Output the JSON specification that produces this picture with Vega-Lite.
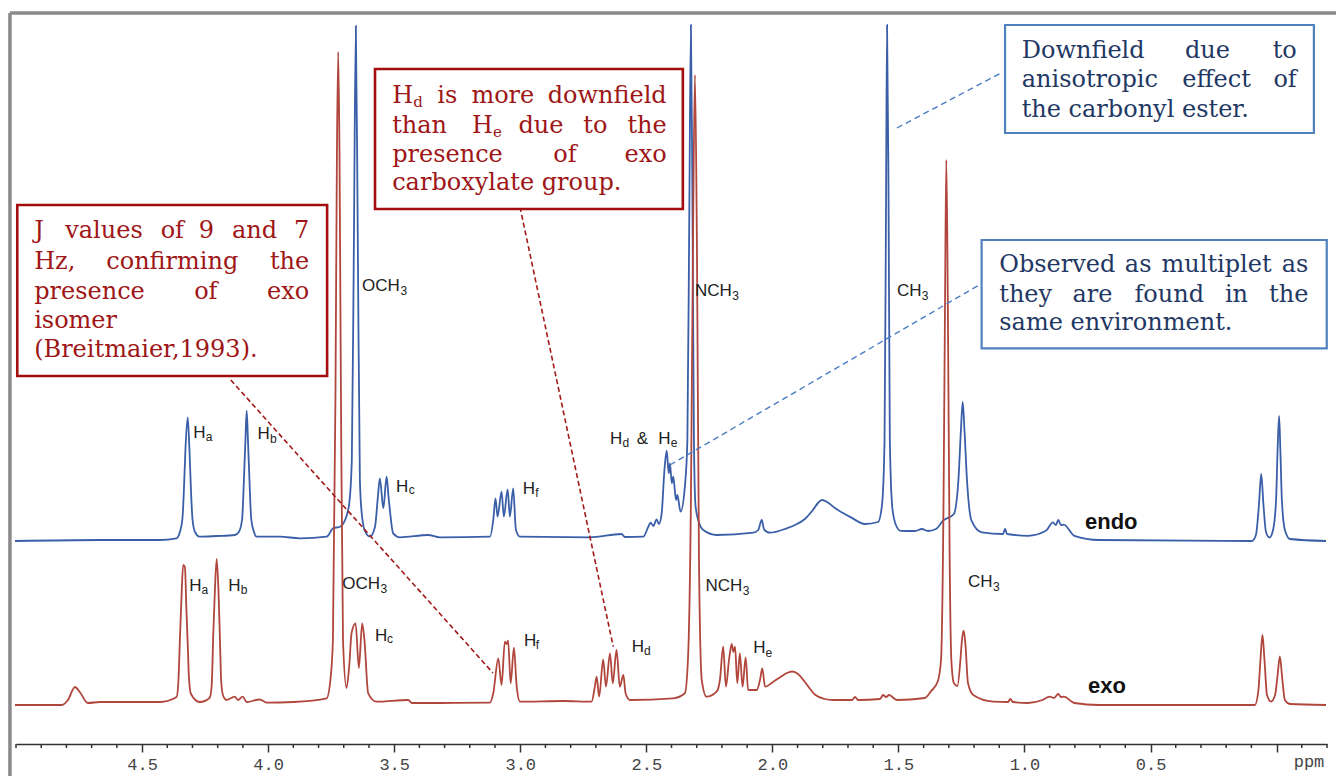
{
  "$schema": "https://vega.github.io/schema/vega-lite/v6.json",
  "width": 1311,
  "height": 744,
  "autosize": "none",
  "padding": {"left": 16, "top": 0, "right": 9, "bottom": 32},
  "background": "white",
  "config": {"view": {"stroke": null}, "font": "Liberation Sans"},
  "datasets": {
    "spectra": [
      {"s":"endo","ppm":5.004,"int":203},{"s":"endo","ppm":4.667,"int":204},{"s":"endo","ppm":4.429,"int":204},{"s":"endo","ppm":4.363,"int":205.7},{"s":"endo","ppm":4.35,"int":212},{"s":"endo","ppm":4.34,"int":225},{"s":"endo","ppm":4.334,"int":254},{"s":"endo","ppm":4.328,"int":294},{"s":"endo","ppm":4.319,"int":326.7},{"s":"endo","ppm":4.312,"int":294},{"s":"endo","ppm":4.306,"int":254},{"s":"endo","ppm":4.3,"int":225},{"s":"endo","ppm":4.29,"int":212},{"s":"endo","ppm":4.271,"int":207.3},{"s":"endo","ppm":4.204,"int":208},{"s":"endo","ppm":4.132,"int":209},{"s":"endo","ppm":4.116,"int":212},{"s":"endo","ppm":4.103,"int":225},{"s":"endo","ppm":4.096,"int":264},{"s":"endo","ppm":4.09,"int":304},{"s":"endo","ppm":4.085,"int":333.3},{"s":"endo","ppm":4.08,"int":304},{"s":"endo","ppm":4.074,"int":264},{"s":"endo","ppm":4.067,"int":225},{"s":"endo","ppm":4.056,"int":212},{"s":"endo","ppm":4.046,"int":207.3},{"s":"endo","ppm":3.953,"int":207.3},{"s":"endo","ppm":3.874,"int":205.7},{"s":"endo","ppm":3.768,"int":207.3},{"s":"endo","ppm":3.742,"int":215.7},{"s":"endo","ppm":3.715,"int":217.3},{"s":"endo","ppm":3.695,"int":224},{"s":"endo","ppm":3.679,"int":239},{"s":"endo","ppm":3.668,"int":284},{"s":"endo","ppm":3.66,"int":494},{"s":"endo","ppm":3.652,"int":718},{"s":"endo","ppm":3.644,"int":494},{"s":"endo","ppm":3.636,"int":264},{"s":"endo","ppm":3.628,"int":229},{"s":"endo","ppm":3.616,"int":213},{"s":"endo","ppm":3.596,"int":207.3},{"s":"endo","ppm":3.576,"int":217.3},{"s":"endo","ppm":3.564,"int":249},{"s":"endo","ppm":3.557,"int":265.7},{"s":"endo","ppm":3.543,"int":236},{"s":"endo","ppm":3.53,"int":267.3},{"s":"endo","ppm":3.523,"int":249},{"s":"endo","ppm":3.517,"int":234},{"s":"endo","ppm":3.504,"int":210.7},{"s":"endo","ppm":3.477,"int":206.7},{"s":"endo","ppm":3.365,"int":209},{"s":"endo","ppm":3.319,"int":206.7},{"s":"endo","ppm":3.12,"int":207.3},{"s":"endo","ppm":3.107,"int":224},{"s":"endo","ppm":3.098,"int":245.7},{"s":"endo","ppm":3.09,"int":227.3},{"s":"endo","ppm":3.074,"int":252.3},{"s":"endo","ppm":3.065,"int":227.3},{"s":"endo","ppm":3.05,"int":254.7},{"s":"endo","ppm":3.041,"int":227.3},{"s":"endo","ppm":3.028,"int":255.7},{"s":"endo","ppm":3.017,"int":214},{"s":"endo","ppm":3.001,"int":207.3},{"s":"endo","ppm":2.724,"int":206.7},{"s":"endo","ppm":2.598,"int":210},{"s":"endo","ppm":2.585,"int":207},{"s":"endo","ppm":2.512,"int":207.3},{"s":"endo","ppm":2.492,"int":217.3},{"s":"endo","ppm":2.483,"int":221.3},{"s":"endo","ppm":2.472,"int":218},{"s":"endo","ppm":2.459,"int":224.7},{"s":"endo","ppm":2.45,"int":220},{"s":"endo","ppm":2.439,"int":230.7},{"s":"endo","ppm":2.428,"int":274},{"s":"endo","ppm":2.419,"int":293.3},{"s":"endo","ppm":2.411,"int":270.7},{"s":"endo","ppm":2.406,"int":280.7},{"s":"endo","ppm":2.399,"int":260.7},{"s":"endo","ppm":2.393,"int":267.3},{"s":"endo","ppm":2.382,"int":244},{"s":"endo","ppm":2.377,"int":249},{"s":"endo","ppm":2.364,"int":232.3},{"s":"endo","ppm":2.347,"int":257.3},{"s":"endo","ppm":2.337,"int":304},{"s":"endo","ppm":2.329,"int":544},{"s":"endo","ppm":2.323,"int":719},{"s":"endo","ppm":2.317,"int":544},{"s":"endo","ppm":2.311,"int":304},{"s":"endo","ppm":2.305,"int":239},{"s":"endo","ppm":2.294,"int":224},{"s":"endo","ppm":2.274,"int":214},{"s":"endo","ppm":2.221,"int":209},{"s":"endo","ppm":2.076,"int":211.3},{"s":"endo","ppm":2.056,"int":214},{"s":"endo","ppm":2.042,"int":224},{"s":"endo","ppm":2.033,"int":214.7},{"s":"endo","ppm":2.01,"int":211.3},{"s":"endo","ppm":1.943,"int":215.7},{"s":"endo","ppm":1.91,"int":219},{"s":"endo","ppm":1.871,"int":225},{"s":"endo","ppm":1.839,"int":234},{"s":"endo","ppm":1.819,"int":241},{"s":"endo","ppm":1.803,"int":244},{"s":"endo","ppm":1.783,"int":242},{"s":"endo","ppm":1.752,"int":236},{"s":"endo","ppm":1.72,"int":231},{"s":"endo","ppm":1.688,"int":226.6},{"s":"endo","ppm":1.633,"int":220},{"s":"endo","ppm":1.581,"int":222},{"s":"endo","ppm":1.565,"int":239},{"s":"endo","ppm":1.555,"int":304},{"s":"endo","ppm":1.549,"int":544},{"s":"endo","ppm":1.545,"int":719},{"s":"endo","ppm":1.539,"int":544},{"s":"endo","ppm":1.534,"int":304},{"s":"endo","ppm":1.524,"int":236},{"s":"endo","ppm":1.51,"int":219},{"s":"endo","ppm":1.491,"int":213.2},{"s":"endo","ppm":1.434,"int":213},{"s":"endo","ppm":1.407,"int":215},{"s":"endo","ppm":1.383,"int":213},{"s":"endo","ppm":1.351,"int":215},{"s":"endo","ppm":1.323,"int":223.3},{"s":"endo","ppm":1.28,"int":230},{"s":"endo","ppm":1.262,"int":264},{"s":"endo","ppm":1.252,"int":314},{"s":"endo","ppm":1.245,"int":342.2},{"s":"endo","ppm":1.238,"int":314},{"s":"endo","ppm":1.228,"int":264},{"s":"endo","ppm":1.21,"int":223.3},{"s":"endo","ppm":1.169,"int":211.6},{"s":"endo","ppm":1.085,"int":210},{"s":"endo","ppm":1.077,"int":215},{"s":"endo","ppm":1.069,"int":210},{"s":"endo","ppm":0.986,"int":208.2},{"s":"endo","ppm":0.915,"int":213.2},{"s":"endo","ppm":0.887,"int":221.6},{"s":"endo","ppm":0.875,"int":219},{"s":"endo","ppm":0.866,"int":224},{"s":"endo","ppm":0.855,"int":219},{"s":"endo","ppm":0.844,"int":219.3},{"s":"endo","ppm":0.802,"int":208.2},{"s":"endo","ppm":0.704,"int":204},{"s":"endo","ppm":0.098,"int":203},{"s":"endo","ppm":0.082,"int":209},{"s":"endo","ppm":0.07,"int":239},{"s":"endo","ppm":0.061,"int":270.2},{"s":"endo","ppm":0.052,"int":239},{"s":"endo","ppm":0.042,"int":212},{"s":"endo","ppm":0.028,"int":206.5},{"s":"endo","ppm":0.014,"int":214},{"s":"endo","ppm":0.002,"int":244},{"s":"endo","ppm":-0.004,"int":294},{"s":"endo","ppm":-0.01,"int":328},{"s":"endo","ppm":-0.015,"int":294},{"s":"endo","ppm":-0.021,"int":244},{"s":"endo","ppm":-0.033,"int":214},{"s":"endo","ppm":-0.053,"int":205},{"s":"endo","ppm":-0.196,"int":203},
      {"s":"exo","ppm":5.004,"int":39},{"s":"exo","ppm":4.818,"int":39},{"s":"exo","ppm":4.794,"int":44},{"s":"exo","ppm":4.766,"int":57},{"s":"exo","ppm":4.747,"int":52},{"s":"exo","ppm":4.715,"int":41},{"s":"exo","ppm":4.667,"int":42},{"s":"exo","ppm":4.429,"int":42},{"s":"exo","ppm":4.363,"int":47},{"s":"exo","ppm":4.356,"int":62},{"s":"exo","ppm":4.35,"int":104},{"s":"exo","ppm":4.344,"int":144},{"s":"exo","ppm":4.337,"int":179},{"s":"exo","ppm":4.33,"int":177},{"s":"exo","ppm":4.324,"int":134},{"s":"exo","ppm":4.318,"int":94},{"s":"exo","ppm":4.314,"int":66},{"s":"exo","ppm":4.306,"int":50},{"s":"exo","ppm":4.271,"int":42},{"s":"exo","ppm":4.232,"int":46},{"s":"exo","ppm":4.224,"int":58},{"s":"exo","ppm":4.217,"int":114},{"s":"exo","ppm":4.211,"int":154},{"s":"exo","ppm":4.204,"int":185},{"s":"exo","ppm":4.197,"int":154},{"s":"exo","ppm":4.191,"int":104},{"s":"exo","ppm":4.186,"int":62},{"s":"exo","ppm":4.178,"int":48},{"s":"exo","ppm":4.165,"int":44},{"s":"exo","ppm":4.132,"int":47.3},{"s":"exo","ppm":4.12,"int":44},{"s":"exo","ppm":4.101,"int":47.3},{"s":"exo","ppm":4.085,"int":42},{"s":"exo","ppm":4.033,"int":44.5},{"s":"exo","ppm":4.006,"int":41.3},{"s":"exo","ppm":3.9,"int":42},{"s":"exo","ppm":3.768,"int":45.7},{"s":"exo","ppm":3.753,"int":64},{"s":"exo","ppm":3.743,"int":104},{"s":"exo","ppm":3.733,"int":344},{"s":"exo","ppm":3.727,"int":594},{"s":"exo","ppm":3.722,"int":692},{"s":"exo","ppm":3.717,"int":594},{"s":"exo","ppm":3.711,"int":344},{"s":"exo","ppm":3.703,"int":104},{"s":"exo","ppm":3.689,"int":56},{"s":"exo","ppm":3.678,"int":79},{"s":"exo","ppm":3.669,"int":111},{"s":"exo","ppm":3.653,"int":120.7},{"s":"exo","ppm":3.64,"int":76},{"s":"exo","ppm":3.627,"int":120.7},{"s":"exo","ppm":3.618,"int":104},{"s":"exo","ppm":3.603,"int":50.7},{"s":"exo","ppm":3.57,"int":42.3},{"s":"exo","ppm":3.444,"int":44},{"s":"exo","ppm":3.43,"int":41},{"s":"exo","ppm":3.319,"int":41},{"s":"exo","ppm":3.12,"int":41.3},{"s":"exo","ppm":3.107,"int":50.7},{"s":"exo","ppm":3.087,"int":85.7},{"s":"exo","ppm":3.074,"int":59},{"s":"exo","ppm":3.061,"int":102.3},{"s":"exo","ppm":3.054,"int":100},{"s":"exo","ppm":3.048,"int":103.3},{"s":"exo","ppm":3.038,"int":60.7},{"s":"exo","ppm":3.025,"int":96.3},{"s":"exo","ppm":3.014,"int":57.3},{"s":"exo","ppm":3.001,"int":42.3},{"s":"exo","ppm":2.829,"int":43},{"s":"exo","ppm":2.717,"int":42.3},{"s":"exo","ppm":2.704,"int":57.3},{"s":"exo","ppm":2.697,"int":67.3},{"s":"exo","ppm":2.687,"int":47.3},{"s":"exo","ppm":2.671,"int":84.7},{"s":"exo","ppm":2.66,"int":57.3},{"s":"exo","ppm":2.644,"int":90.7},{"s":"exo","ppm":2.633,"int":60.7},{"s":"exo","ppm":2.618,"int":94},{"s":"exo","ppm":2.605,"int":57.3},{"s":"exo","ppm":2.591,"int":69},{"s":"exo","ppm":2.582,"int":50.7},{"s":"exo","ppm":2.565,"int":44},{"s":"exo","ppm":2.393,"int":45.7},{"s":"exo","ppm":2.347,"int":50.7},{"s":"exo","ppm":2.334,"int":89},{"s":"exo","ppm":2.323,"int":244},{"s":"exo","ppm":2.315,"int":494},{"s":"exo","ppm":2.307,"int":669},{"s":"exo","ppm":2.299,"int":494},{"s":"exo","ppm":2.291,"int":184},{"s":"exo","ppm":2.28,"int":64},{"s":"exo","ppm":2.261,"int":47.3},{"s":"exo","ppm":2.221,"int":52.3},{"s":"exo","ppm":2.208,"int":64},{"s":"exo","ppm":2.195,"int":97.3},{"s":"exo","ppm":2.184,"int":57.3},{"s":"exo","ppm":2.172,"int":84},{"s":"exo","ppm":2.161,"int":100},{"s":"exo","ppm":2.155,"int":92},{"s":"exo","ppm":2.148,"int":97.3},{"s":"exo","ppm":2.139,"int":60.7},{"s":"exo","ppm":2.129,"int":90.7},{"s":"exo","ppm":2.118,"int":57.3},{"s":"exo","ppm":2.106,"int":86.7},{"s":"exo","ppm":2.096,"int":54},{"s":"exo","ppm":2.062,"int":54},{"s":"exo","ppm":2.049,"int":64},{"s":"exo","ppm":2.04,"int":75.7},{"s":"exo","ppm":2.029,"int":57.3},{"s":"exo","ppm":1.996,"int":62.3},{"s":"exo","ppm":1.962,"int":68},{"s":"exo","ppm":1.942,"int":71},{"s":"exo","ppm":1.921,"int":72.5},{"s":"exo","ppm":1.898,"int":70},{"s":"exo","ppm":1.871,"int":62},{"s":"exo","ppm":1.829,"int":49},{"s":"exo","ppm":1.791,"int":45},{"s":"exo","ppm":1.76,"int":44},{"s":"exo","ppm":1.684,"int":44},{"s":"exo","ppm":1.672,"int":47},{"s":"exo","ppm":1.66,"int":44},{"s":"exo","ppm":1.573,"int":45},{"s":"exo","ppm":1.561,"int":49},{"s":"exo","ppm":1.549,"int":47},{"s":"exo","ppm":1.537,"int":49},{"s":"exo","ppm":1.506,"int":44},{"s":"exo","ppm":1.395,"int":46},{"s":"exo","ppm":1.372,"int":52.4},{"s":"exo","ppm":1.344,"int":62.5},{"s":"exo","ppm":1.331,"int":84},{"s":"exo","ppm":1.321,"int":244},{"s":"exo","ppm":1.315,"int":444},{"s":"exo","ppm":1.31,"int":584},{"s":"exo","ppm":1.304,"int":444},{"s":"exo","ppm":1.297,"int":194},{"s":"exo","ppm":1.29,"int":84},{"s":"exo","ppm":1.28,"int":61},{"s":"exo","ppm":1.266,"int":58},{"s":"exo","ppm":1.254,"int":84},{"s":"exo","ppm":1.248,"int":104},{"s":"exo","ppm":1.241,"int":113.4},{"s":"exo","ppm":1.234,"int":99},{"s":"exo","ppm":1.224,"int":61},{"s":"exo","ppm":1.203,"int":49},{"s":"exo","ppm":1.125,"int":42.4},{"s":"exo","ppm":1.065,"int":42},{"s":"exo","ppm":1.056,"int":45},{"s":"exo","ppm":1.046,"int":42},{"s":"exo","ppm":0.986,"int":41},{"s":"exo","ppm":0.929,"int":44},{"s":"exo","ppm":0.9,"int":47.4},{"s":"exo","ppm":0.883,"int":46},{"s":"exo","ppm":0.866,"int":50},{"s":"exo","ppm":0.855,"int":47},{"s":"exo","ppm":0.844,"int":47.4},{"s":"exo","ppm":0.802,"int":41},{"s":"exo","ppm":0.704,"int":39},{"s":"exo","ppm":0.086,"int":39},{"s":"exo","ppm":0.072,"int":54},{"s":"exo","ppm":0.064,"int":84},{"s":"exo","ppm":0.056,"int":109},{"s":"exo","ppm":0.048,"int":84},{"s":"exo","ppm":0.038,"int":49},{"s":"exo","ppm":0.022,"int":42.4},{"s":"exo","ppm":0.006,"int":49},{"s":"exo","ppm":-0.004,"int":69},{"s":"exo","ppm":-0.013,"int":87.6},{"s":"exo","ppm":-0.023,"int":64},{"s":"exo","ppm":-0.033,"int":44},{"s":"exo","ppm":-0.053,"int":40},{"s":"exo","ppm":-0.196,"int":39}
    ],
    "labels": [
      {"t":"H","ppm":4.297,"int":306.5},{"t":"H","ppm":4.042,"int":305},{"t":"H","ppm":3.493,"int":252},{"t":"OCH","ppm":3.628,"int":453},{"t":"H","ppm":2.99,"int":250},{"t":"H","ppm":2.644,"int":300},{"t":"&","ppm":2.538,"int":300},{"t":"H","ppm":2.453,"int":300},{"t":"NCH","ppm":2.307,"int":448},{"t":"CH","ppm":1.506,"int":448},
      {"t":"H","ppm":4.313,"int":153.3},{"t":"H","ppm":4.158,"int":153.3},{"t":"OCH","ppm":3.706,"int":154.7},{"t":"H","ppm":3.576,"int":103.3},{"t":"H","ppm":2.985,"int":98},{"t":"H","ppm":2.558,"int":92.3},{"t":"NCH","ppm":2.265,"int":153.3},{"t":"H","ppm":2.076,"int":90.7},{"t":"CH","ppm":1.224,"int":157}
    ],
    "subs": [
      {"t":"a","ppm":4.247,"int":303},{"t":"b","ppm":3.993,"int":301.3},{"t":"c","ppm":3.442,"int":250},{"t":"3","ppm":3.475,"int":449},{"t":"f","ppm":2.94,"int":247},{"t":"d","ppm":2.594,"int":297},{"t":"e","ppm":2.403,"int":297},{"t":"3","ppm":2.159,"int":444.5},{"t":"3","ppm":1.407,"int":444.5},
      {"t":"a","ppm":4.264,"int":150},{"t":"b","ppm":4.109,"int":150},{"t":"3","ppm":3.554,"int":151},{"t":"c","ppm":3.528,"int":101},{"t":"f","ppm":2.938,"int":95},{"t":"d","ppm":2.509,"int":89},{"t":"3","ppm":2.117,"int":149.5},{"t":"e","ppm":2.027,"int":87.5},{"t":"3","ppm":1.125,"int":153.5}
    ],
    "tags": [
      {"t":"endo","ppm":0.76,"int":215},{"t":"exo","ppm":0.748,"int":51}
    ],
    "notesRedL": [
      {"t":"J","ppm":4.928,"int":505.7},{"t":"Hz,","ppm":4.928,"int":475},{"t":"presence","ppm":4.928,"int":444.7},{"t":"isomer","ppm":4.928,"int":415.7},{"t":"(Breitmaier,1993).","ppm":4.928,"int":386.7},
      {"t":"H","ppm":3.508,"int":640.7},{"t":"than","ppm":3.508,"int":610.7},{"t":"presence","ppm":3.508,"int":582.3},{"t":"carboxylate group.","ppm":3.508,"int":554}
    ],
    "notesRedC": [
      {"t":"values","ppm":4.651,"int":505.7},{"t":"of","ppm":4.38,"int":505.7},{"t":"9","ppm":4.245,"int":505.7},{"t":"and","ppm":4.054,"int":505.7},
      {"t":"confirming","ppm":4.38,"int":475},
      {"t":"of","ppm":4.247,"int":444.7},
      {"t":"is","ppm":3.289,"int":640.7},{"t":"more","ppm":3.069,"int":640.7},
      {"t":"H","ppm":3.15,"int":610.7},{"t":"due","ppm":2.918,"int":610.7},{"t":"to","ppm":2.702,"int":610.7},
      {"t":"of","ppm":2.823,"int":582.3}
    ],
    "notesRedR": [
      {"t":"7","ppm":3.837,"int":505.7},{"t":"the","ppm":3.837,"int":475},{"t":"exo","ppm":3.837,"int":444.7},
      {"t":"downfield","ppm":2.419,"int":640.7},{"t":"the","ppm":2.419,"int":610.7},{"t":"exo","ppm":2.419,"int":582.3}
    ],
    "notesRedSubs": [
      {"t":"d","ppm":3.424,"int":637},{"t":"e","ppm":3.108,"int":607}
    ],
    "notesBlueL": [
      {"t":"Downfield","ppm":1.011,"int":685.7},{"t":"anisotropic","ppm":1.011,"int":657.3},{"t":"the carbonyl ester.","ppm":1.011,"int":627.3},
      {"t":"Observed","ppm":1.1,"int":472.3},{"t":"they","ppm":1.1,"int":442.3},{"t":"same environment.","ppm":1.1,"int":414}
    ],
    "notesBlueC": [
      {"t":"due","ppm":0.274,"int":685.7},{"t":"effect","ppm":0.238,"int":657.3},
      {"t":"as","ppm":0.549,"int":472.3},{"t":"multiplet","ppm":0.238,"int":472.3},
      {"t":"are","ppm":0.73,"int":442.3},{"t":"found","ppm":0.426,"int":442.3},{"t":"in","ppm":0.159,"int":442.3}
    ],
    "notesBlueR": [
      {"t":"to","ppm":-0.08,"int":685.7},{"t":"of","ppm":-0.08,"int":657.3},
      {"t":"as","ppm":-0.126,"int":472.3},{"t":"the","ppm":-0.126,"int":442.3}
    ],
    "boxesRed": [
      {"ppm":4.995,"ppm2":3.766,"int":539,"int2":368},
      {"ppm":3.576,"ppm2":2.355,"int":675,"int2":535}
    ],
    "boxesBlue": [
      {"ppm":1.077,"ppm2":-0.148,"int":719,"int2":611},
      {"ppm":1.17,"ppm2":-0.199,"int":504,"int2":395.7}
    ],
    "leadersRed": [
      {"ppm":4.148,"ppm2":3.108,"int":364,"int2":71},
      {"ppm":3.001,"ppm2":2.631,"int":537,"int2":97.3}
    ],
    "leadersBlue": [
      {"ppm":2.406,"ppm2":1.173,"int":279,"int2":460},
      {"ppm":1.506,"ppm2":1.093,"int":616,"int2":671}
    ],
    "frame": [
      {"ppm":5.024,"ppm2":-0.236,"int":731,"int2":731},
      {"ppm":5.024,"ppm2":5.024,"int":731,"int2":-32}
    ],
    "minorTicks": [
      {"ppm":5.0,"int":0,"int2":-4},{"ppm":4.9,"int":0,"int2":-4},{"ppm":4.8,"int":0,"int2":-4},{"ppm":4.7,"int":0,"int2":-4},{"ppm":4.6,"int":0,"int2":-4},
      {"ppm":4.4,"int":0,"int2":-4},{"ppm":4.3,"int":0,"int2":-4},{"ppm":4.2,"int":0,"int2":-4},{"ppm":4.1,"int":0,"int2":-4},
      {"ppm":3.9,"int":0,"int2":-4},{"ppm":3.8,"int":0,"int2":-4},{"ppm":3.7,"int":0,"int2":-4},{"ppm":3.6,"int":0,"int2":-4},
      {"ppm":3.4,"int":0,"int2":-4},{"ppm":3.3,"int":0,"int2":-4},{"ppm":3.2,"int":0,"int2":-4},{"ppm":3.1,"int":0,"int2":-4},
      {"ppm":2.9,"int":0,"int2":-4},{"ppm":2.8,"int":0,"int2":-4},{"ppm":2.7,"int":0,"int2":-4},{"ppm":2.6,"int":0,"int2":-4},
      {"ppm":2.4,"int":0,"int2":-4},{"ppm":2.3,"int":0,"int2":-4},{"ppm":2.2,"int":0,"int2":-4},{"ppm":2.1,"int":0,"int2":-4},
      {"ppm":1.9,"int":0,"int2":-4},{"ppm":1.8,"int":0,"int2":-4},{"ppm":1.7,"int":0,"int2":-4},{"ppm":1.6,"int":0,"int2":-4},
      {"ppm":1.4,"int":0,"int2":-4},{"ppm":1.3,"int":0,"int2":-4},{"ppm":1.2,"int":0,"int2":-4},{"ppm":1.1,"int":0,"int2":-4},
      {"ppm":0.9,"int":0,"int2":-4},{"ppm":0.8,"int":0,"int2":-4},{"ppm":0.7,"int":0,"int2":-4},{"ppm":0.6,"int":0,"int2":-4},
      {"ppm":0.4,"int":0,"int2":-4},{"ppm":0.3,"int":0,"int2":-4},{"ppm":0.2,"int":0,"int2":-4},{"ppm":0.1,"int":0,"int2":-4},
      {"ppm":-0.1,"int":0,"int2":-4},{"ppm":-0.2,"int":0,"int2":-4}
    ],
    "unit": [
      {"t":"ppm","ppm":-0.1285,"int":-23}
    ]
  },
  "encoding": {
    "x": {
      "field": "ppm", "type": "quantitative",
      "scale": {"domain": [-0.2, 5.0], "reverse": true, "nice": false, "zero": false},
      "axis": {
        "values": [4.5, 4, 3.5, 3, 2.5, 2, 1.5, 1, 0.5, 0],
        "labelExpr": "datum.value == 0 ? '' : format(datum.value, '.1f')",
        "title": null, "grid": false,
        "tickSize": 8, "tickWidth": 1.5, "tickColor": "#333",
        "domainColor": "#333", "domainWidth": 1.5,
        "labelFont": "Liberation Mono", "labelFontSize": 17, "labelColor": "#444",
        "labelPadding": 4, "labelFlush": false, "labelOverlap": false, "labelBound": false
      }
    },
    "y": {
      "field": "int", "type": "quantitative",
      "scale": {"domain": [0, 744], "nice": false, "zero": false},
      "axis": null
    }
  },
  "layer": [
    {
      "data": {"name": "frame"},
      "mark": {"type": "rule", "color": "#8a8a8a", "strokeWidth": 3.5},
      "encoding": {"x2": {"field": "ppm2"}, "y2": {"field": "int2"}}
    },
    {
      "data": {"name": "minorTicks"},
      "mark": {"type": "rule", "color": "#333", "strokeWidth": 1.5},
      "encoding": {"y2": {"field": "int2"}}
    },
    {
      "data": {"name": "spectra"},
      "mark": {"type": "line", "strokeWidth": 1.8, "interpolate": "monotone"},
      "encoding": {
        "color": {"field": "s", "type": "nominal", "scale": {"domain": ["endo", "exo"], "range": ["#3a5fa8", "#b0463c"]}, "legend": null}
      }
    },
    {
      "data": {"name": "labels"},
      "mark": {"type": "text", "font": "Liberation Sans", "fontSize": 17, "align": "left", "baseline": "alphabetic", "color": "#222"},
      "encoding": {"text": {"field": "t"}}
    },
    {
      "data": {"name": "subs"},
      "mark": {"type": "text", "font": "Liberation Sans", "fontSize": 12, "align": "left", "baseline": "alphabetic", "color": "#222"},
      "encoding": {"text": {"field": "t"}}
    },
    {
      "data": {"name": "tags"},
      "mark": {"type": "text", "font": "Liberation Sans", "fontSize": 22, "fontWeight": "bold", "align": "left", "baseline": "alphabetic", "color": "#111"},
      "encoding": {"text": {"field": "t"}}
    },
    {
      "data": {"name": "leadersRed"},
      "mark": {"type": "rule", "color": "#a31a1a", "strokeWidth": 1.6, "strokeDash": [5, 3]},
      "encoding": {"x2": {"field": "ppm2"}, "y2": {"field": "int2"}}
    },
    {
      "data": {"name": "leadersBlue"},
      "mark": {"type": "rule", "color": "#4a7cc4", "strokeWidth": 1.4, "strokeDash": [6, 4]},
      "encoding": {"x2": {"field": "ppm2"}, "y2": {"field": "int2"}}
    },
    {
      "data": {"name": "boxesRed"},
      "mark": {"type": "rect", "fill": "white", "stroke": "#a30d0d", "strokeWidth": 2.6},
      "encoding": {"x2": {"field": "ppm2"}, "y2": {"field": "int2"}}
    },
    {
      "data": {"name": "boxesBlue"},
      "mark": {"type": "rect", "fill": "white", "stroke": "#4f81bd", "strokeWidth": 2.2},
      "encoding": {"x2": {"field": "ppm2"}, "y2": {"field": "int2"}}
    },
    {
      "data": {"name": "notesRedL"},
      "mark": {"type": "text", "font": "DejaVu Serif", "fontSize": 24, "align": "left", "baseline": "alphabetic", "color": "#9e1616"},
      "encoding": {"text": {"field": "t"}}
    },
    {
      "data": {"name": "notesRedC"},
      "mark": {"type": "text", "font": "DejaVu Serif", "fontSize": 24, "align": "center", "baseline": "alphabetic", "color": "#9e1616"},
      "encoding": {"text": {"field": "t"}}
    },
    {
      "data": {"name": "notesRedR"},
      "mark": {"type": "text", "font": "DejaVu Serif", "fontSize": 24, "align": "right", "baseline": "alphabetic", "color": "#9e1616"},
      "encoding": {"text": {"field": "t"}}
    },
    {
      "data": {"name": "notesRedSubs"},
      "mark": {"type": "text", "font": "DejaVu Serif", "fontSize": 15, "align": "left", "baseline": "alphabetic", "color": "#9e1616"},
      "encoding": {"text": {"field": "t"}}
    },
    {
      "data": {"name": "notesBlueL"},
      "mark": {"type": "text", "font": "DejaVu Serif", "fontSize": 24, "align": "left", "baseline": "alphabetic", "color": "#1f3864"},
      "encoding": {"text": {"field": "t"}}
    },
    {
      "data": {"name": "notesBlueC"},
      "mark": {"type": "text", "font": "DejaVu Serif", "fontSize": 24, "align": "center", "baseline": "alphabetic", "color": "#1f3864"},
      "encoding": {"text": {"field": "t"}}
    },
    {
      "data": {"name": "notesBlueR"},
      "mark": {"type": "text", "font": "DejaVu Serif", "fontSize": 24, "align": "right", "baseline": "alphabetic", "color": "#1f3864"},
      "encoding": {"text": {"field": "t"}}
    },
    {
      "data": {"name": "unit"},
      "mark": {"type": "text", "font": "Liberation Mono", "fontSize": 17, "align": "center", "baseline": "alphabetic", "color": "#444"},
      "encoding": {"text": {"field": "t"}}
    }
  ]
}
